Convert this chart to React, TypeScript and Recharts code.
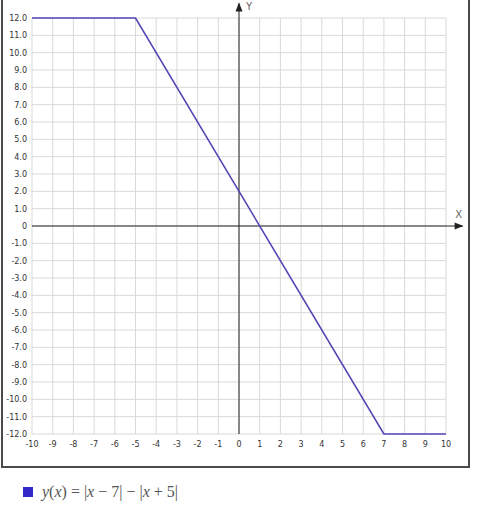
import { CartesianGrid, Line, LineChart, ReferenceDot, ReferenceLine, XAxis, YAxis } from "recharts";

const xs = [-10, -5, 7, 10];
const ys = [12, 12, -12, -12];
const xTicks = [-10, -9, -8, -7, -6, -5, -4, -3, -2, -1, 0, 1, 2, 3, 4, 5, 6, 7, 8, 9, 10];
const yTicks = [-12, -11, -10, -9, -8, -7, -6, -5, -4, -3, -2, -1, 0, 1, 2, 3, 4, 5, 6, 7, 8, 9, 10, 11, 12];

const LINE_COLOR = "#5247b6";
const SWATCH_COLOR = "#3328c8";
const AXIS_COLOR = "#222";

const data = xs.map((x, i) => ({ x, y: ys[i] }));

const tickStyle = { fontSize: 8, fill: "#333", fontFamily: "DejaVu Sans, sans-serif" };

const ArrowRight = ({ cx, cy }: { cx?: number; cy?: number }) => {
  if (cx == null || cy == null) return null;
  return (
    <g>
      <polygon points={`${cx},${cy} ${cx - 9},${cy - 3.5} ${cx - 9},${cy + 3.5}`} fill={AXIS_COLOR} />
      <text x={cx - 5} y={cy - 8} fontSize={10} fill="#666" textAnchor="middle" fontFamily="DejaVu Sans, sans-serif">
        X
      </text>
    </g>
  );
};

const ArrowUp = ({ cx, cy }: { cx?: number; cy?: number }) => {
  if (cx == null || cy == null) return null;
  return (
    <g>
      <polygon points={`${cx},${cy} ${cx - 3.5},${cy + 9} ${cx + 3.5},${cy + 9}`} fill={AXIS_COLOR} />
      <text x={cx + 10} y={cy + 8} fontSize={10} fill="#666" textAnchor="middle" fontFamily="DejaVu Sans, sans-serif">
        Y
      </text>
    </g>
  );
};

const op = { margin: "0 4px" };

export default function App() {
  return (
    <div style={{ position: "absolute", left: 0, top: 0, width: 500, height: 526, background: "#fff" }}>
      <div
        style={{
          position: "absolute",
          left: 1,
          top: -4,
          width: 465,
          height: 468,
          border: "2px solid #4a4a4a",
        }}
      />
      <div style={{ position: "absolute", left: 0, top: 0 }}>
        <LineChart width={500} height={526} data={data} margin={{ top: 18, right: 54, bottom: 72, left: 0 }}>
          <CartesianGrid stroke="#d9d9d9" strokeWidth={1} />
          <XAxis
            type="number"
            dataKey="x"
            domain={[-10, 10]}
            ticks={xTicks}
            interval={0}
            axisLine={false}
            tickLine={false}
            tickSize={0}
            tickMargin={7}
            height={20}
            tick={tickStyle}
          />
          <YAxis
            type="number"
            domain={[-12, 12]}
            ticks={yTicks}
            interval={0}
            axisLine={false}
            tickLine={false}
            tickSize={0}
            tickMargin={5}
            width={32}
            tick={tickStyle}
            tickFormatter={(v: number) => (v === 0 ? "0" : v.toFixed(1))}
          />
          <ReferenceLine
            segment={[
              { x: -10, y: 0 },
              { x: 10.8, y: 0 },
            ]}
            stroke={AXIS_COLOR}
            strokeWidth={1}
            ifOverflow="visible"
          />
          <ReferenceLine
            segment={[
              { x: 0, y: -12 },
              { x: 0, y: 12.85 },
            ]}
            stroke={AXIS_COLOR}
            strokeWidth={1}
            ifOverflow="visible"
          />
          <ReferenceDot x={10.85} y={0} ifOverflow="visible" shape={ArrowRight} />
          <ReferenceDot x={0} y={12.9} ifOverflow="visible" shape={ArrowUp} />
          <Line
            type="linear"
            dataKey="y"
            stroke={LINE_COLOR}
            strokeWidth={1.6}
            dot={false}
            activeDot={false}
            isAnimationActive={false}
          />
        </LineChart>
      </div>
      <div
        style={{
          position: "absolute",
          left: 23,
          top: 483,
          display: "flex",
          alignItems: "center",
          gap: 9,
          fontFamily: "Liberation Serif, serif",
          fontSize: 16,
          color: "#555",
          whiteSpace: "nowrap",
        }}
      >
        <span style={{ width: 10, height: 10, background: SWATCH_COLOR, display: "inline-block" }} />
        <span>
          <i>y</i>(<i>x</i>)<span style={op}>=</span>|<i>x</i>
          <span style={op}>−</span>7|<span style={op}>−</span>|<i>x</i>
          <span style={op}>+</span>5|
        </span>
      </div>
    </div>
  );
}
